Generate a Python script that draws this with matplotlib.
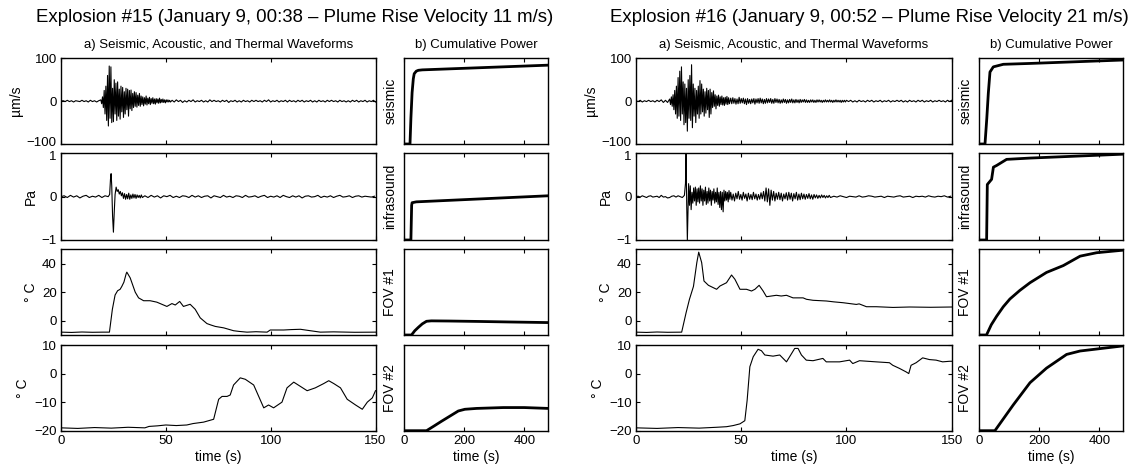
import numpy as np
import matplotlib
matplotlib.use("Agg")
import matplotlib.pyplot as plt
from matplotlib.transforms import ScaledTranslation

plt.rcParams['font.family'] = ['Liberation Sans', 'DejaVu Sans']
plt.rcParams['axes.unicode_minus'] = True

# ---------------- Explosion #15 ----------------
title15 = "Explosion #15 (January 9, 00:38 \u2013 Plume Rise Velocity 11 m/s)"

# seismic (um/s): quiet before, burst (0.4 s steps), quiet after (1 s steps)
seis15_pre = [0, 1, -1, 2, -1, 1, -2, 1, 0, -1, 2, -1, 1, -2, 2, -1, 1, -2, 1]
seis15_burst = [3, -6, 10, -15, 25, -30, 35, -45, 60, -58, 82, -40, 80, -50, 30, -48,
                50, -30, 42, -45, 45, -35, 28, -42, 35, -25, 32, -38, 22, -30, 30, -20,
                28, -35, 25, -18, 26, -22, 18, -15, 22, -12, 20, -14, 14, -10, 18, -12,
                12, -8, 10, -11, 8, -7, 12, -9, 7, -6, 9, -8, 6, -5, 8, -6, 5, -7,
                6, -4, 5, -5, 7, -4, 4, -3, 5, -3, 3, -4, 3, -2, 3, -2, 2, -2]
seis15_post = [2, -2, 3, -1, 2, -3, 1, -2, 2, -1, 3, -2, 1, -1, 2, -2, 1, -2, 3, -1,
               2, -1, 1, -2, 2, -1, 2, -3, 1, -1, 2, -2, 1, -2, 2, -1, 1, -2, 2, -1,
               2, -1, 1, -2, 2, -1, 3, -2, 1, -1, 2, -2, 1, -1, 2, -2, 2, -1, 1, -2,
               2, -1, 2, -2, 1, -1, 2, -2, 1, -2, 2, -1, 1, -2, 2, -1, 2, -1, 1, -2,
               2, -1, 1, -2, 1, -2, 2, -1, 2, -2, 1, -1, 2, -2, 1, -1, 2, -2]

# infrasound (Pa)
infra15_pre = [0.0, 0.02, -0.02, 0.03, -0.01, 0.02, -0.03, 0.01, 0.03, -0.02, 0.01,
               -0.01, 0.03, -0.02, 0.02, 0.0]
infra15_evt_t = [23.2, 23.6, 23.9, 24.2, 24.6, 25.0, 25.4, 25.8, 26.3, 26.8, 27.3, 27.8,
                 28.3, 28.8, 29.3, 29.8, 30.3, 30.8, 31.3, 31.8, 32.3, 32.8, 33.3, 33.8,
                 34.3, 34.8, 35.3, 35.8, 36.3, 36.8, 37.3, 37.8, 38.3, 38.8]
infra15_evt = [0.05, 0.4, 0.53, 0.25, -0.45, -0.82, -0.35, 0.05, 0.22, 0.12, 0.16, 0.06,
               0.12, 0.02, 0.09, -0.04, 0.07, -0.06, 0.05, -0.05, 0.08, -0.06, 0.04, -0.04,
               0.06, -0.03, 0.05, -0.04, 0.04, -0.02, 0.03, -0.03, 0.04, -0.02]
infra15_post = [0.02, -0.02, 0.03, -0.01, 0.02, -0.03, 0.02, 0.0, 0.03, -0.02, 0.01, -0.02,
                0.02, 0.01, -0.02, 0.03, -0.01, 0.02, -0.02, 0.01, 0.02, -0.03, 0.02, 0.0,
                -0.02, 0.03, -0.01, 0.01, -0.02, 0.02, 0.01, -0.02, 0.03, -0.01, 0.0, 0.02,
                -0.02, 0.01, 0.03, -0.02, 0.01, -0.01, 0.02, -0.02, 0.03, 0.0, -0.02, 0.02,
                -0.01, 0.02, -0.03, 0.01, 0.02, -0.01, 0.0, 0.03, -0.02, 0.01, -0.01, 0.02,
                -0.02, 0.01, 0.03, -0.01, 0.0, 0.02, -0.02, 0.01, 0.02, -0.01, 0.01, 0.0,
                -0.01, 0.01]

# FOV #1 temperature (deg C)
fov1_15_t = [0, 5, 10, 15, 20, 23.1, 24.5, 25.8, 27.0, 28.2, 29.0, 30.0, 31.1, 31.4, 33.0,
             35.4, 37.0, 39.4, 42.5, 45.7, 48.9, 50.5, 52.9, 54.5, 56.6, 58.4, 61.6, 64.0,
             66.4, 69.6, 71.5, 73.6, 77.6, 82.3, 85.0, 88.7, 93.0, 98.3, 99.8, 106.2, 110.0,
             114.2, 118.9, 123.7, 130, 140, 150]
fov1_15 = [-8, -8.2, -7.9, -8.1, -8, -8, 8, 18, 21, 22, 24, 27, 33, 34, 30, 20, 16, 14,
           14, 13, 11, 10, 12, 11, 13.5, 10, 11.5, 8, 2, -2, -3, -4, -5, -7, -7.5, -8, -7.7,
           -8, -6.5, -6.5, -6.2, -6, -7, -8, -7.8, -8.1, -8]

# FOV #2 temperature (deg C)
fov2_15_t = [0, 8, 16, 24, 32, 40, 42, 46, 50, 55, 60, 63, 68, 72.8, 75.2, 76.8, 79.2,
             80.7, 82.3, 85.5, 87.9, 91.9, 94.3, 96.7, 99.0, 101.4, 105.4, 107.8, 111.0,
             114.2, 117.4, 121.3, 125.3, 127.7, 130.1, 133.3, 136.5, 140.5, 143.7, 146.1,
             148.5, 150]
fov2_15 = [-19, -19.2, -18.9, -19.1, -18.8, -19, -18.5, -18.3, -18, -18.2, -18, -17.5, -17,
           -16, -9, -8, -8, -7.5, -4, -1.5, -2, -4, -8, -12, -11, -12, -10, -5, -3, -4.5,
           -6, -5, -3.5, -2.5, -3.5, -5, -9, -11, -12.5, -10, -8.5, -6]

# cumulative power (normalised)
cum15_seis_t = [0, 19, 22, 26, 30, 33, 40, 47, 60, 480]
cum15_seis = [0, 0, 0.3, 0.6, 0.76, 0.82, 0.85, 0.86, 0.865, 0.92]
cum15_infra_t = [0, 22, 24.5, 26, 40, 480]
cum15_infra = [0, 0, 0.40, 0.43, 0.44, 0.51]
cum15_fov1_t = [0, 24, 35, 47, 60, 74, 90, 150, 250, 350, 480]
cum15_fov1 = [0, 0, 0.05, 0.09, 0.13, 0.16, 0.165, 0.163, 0.158, 0.152, 0.145]
cum15_fov2_t = [0, 74, 97, 124, 152, 180, 202, 241, 330, 400, 480]
cum15_fov2 = [0, 0, 0.05, 0.11, 0.17, 0.23, 0.25, 0.26, 0.27, 0.27, 0.26]

# ---------------- Explosion #16 ----------------
title16 = "Explosion #16 (January 9, 00:52 \u2013 Plume Rise Velocity 21 m/s)"

seis16_pre = [1, -1, 2, -2, 1, -1, 2, -1, 1, -2, 2, -1, 3, -3, 2, -3]
seis16_burst = [5, -8, 10, -12, 15, -20, 25, -30, 35, -40, 55, -35, 70, -45, 80, -30,
                45, -55, 40, -50, 30, -70, 50, -40, 60, -45, 85, -62, 40, -35, 30, -50,
                25, -30, 35, -40, 48, -30, 40, -25, 28, -35, 22, -28, 30, -20, 25, -38,
                28, -30, 20, -15, 24, -12, 15, -18, 12, -10, 14, -12, 10, -8, 12, -9,
                8, -10, 9, -7, 11, -8, 8, -6]
seis16_tail = [7, -6, 8, -5, 6, -7, 5, -6, 9, -5, 6, -4, 7, -6, 5, -8, 6, -5, 4, -6,
               5, -4, 6, -7, 5, -4, 6, -5, 7, -4, 5, -6, 4, -5, 6, -4, 5, -3, 6, -5,
               4, -5, 6, -3, 5, -4, 4, -5, 3, -4, 5, -3, 4, -5, 3, -4, 4, -3, 5, -4,
               3, -4, 4, -3, 3, -4, 4, -3, 3, -2, 4, -3, 3, -3, 2, -3, 3, -2, 3, -3,
               2, -3, 3, -2, 3, -2, 2, -3, 2, -2, 3, -2, 2, -2, 3, -2, 2, -3, 2, -2,
               3, -2, 2, -2, 2, -3, 2, -2, 2, -2]
seis16_post = [2, -1, 2, -2, 1, -2, 2, -1, 1, -2, 2, -1, 2, -2, 1, -1, 2, -2, 1, -1,
               2, -2, 1, -1, 2, -1, 2, -2, 1, -2, 2, -1, 1, -2, 2, -1, 2, -2, 1, -1,
               2, -2, 1, -1, 2, -1, 1, -2, 2, -1, 2]

infra16_pre = [0.0, 0.01, -0.01, 0.02, 0.0, -0.02, 0.01, 0.02, -0.01, 0.0, 0.01, -0.02,
               0.03, -0.01, 0.0, -0.03, -0.02, 0.01, 0.02, -0.01, 0.02, 0.0, -0.02, 0.03]
infra16_spike_t = [23.5, 23.8, 24.1, 24.4, 24.7, 25.0]
infra16_spike = [0.3, 1.0, -0.2, -1.0, -0.3, 0.3]
infra16_coda = [-0.2, 0.25, -0.3, 0.1, -0.15, 0.2, -0.1, 0.22, -0.2, 0.18, -0.12, 0.2,
                -0.15, 0.25, -0.1, 0.18, -0.2, 0.15, -0.1, 0.22, -0.18, 0.12, -0.15, 0.2,
                -0.1, 0.15, -0.2, 0.12, -0.08, 0.18, -0.15, 0.1, -0.12, 0.2, -0.18, 0.1,
                -0.25, 0.12, -0.3, 0.1, -0.35, 0.15, -0.1, 0.12, -0.08, 0.1, -0.12, 0.14,
                -0.06]
infra16_tail = [0.1, -0.08, 0.06, -0.1, 0.08, -0.05, 0.12, -0.06, 0.05, -0.08, 0.1, -0.04,
                0.06, -0.1, 0.08, -0.06, 0.05, -0.07, 0.1, -0.05,
                0.06, -0.08, 0.05, -0.06, 0.09, -0.05, 0.12, -0.1, 0.2, -0.12, 0.18, -0.2,
                0.15, -0.08, 0.12, -0.1, 0.08, -0.06, 0.1, -0.07,
                0.08, -0.1, 0.06, -0.05, 0.09, -0.08, 0.1, -0.06, 0.08, -0.1, 0.07, -0.05,
                0.1, -0.08, 0.06, -0.07, 0.08, -0.05, 0.06, -0.06,
                0.05, -0.04, 0.07, -0.05, 0.04, -0.06, 0.05, -0.03, 0.04, -0.04, 0.03, -0.03,
                0.04, -0.02, 0.03, -0.03, 0.02, -0.02, 0.03, -0.02]
infra16_post = [0.01, -0.01, 0.02, 0.0, -0.02, 0.01, 0.0, -0.01, 0.02, -0.01, 0.0, 0.02,
                0.01, -0.01, 0.0, 0.01, -0.02, 0.01, 0.0, -0.01, 0.01, 0.02, -0.01, 0.0,
                0.01, -0.02, 0.01, 0.0, 0.01, -0.01, 0.02, 0.0, -0.01, 0.01, 0.0, 0.02,
                -0.01, 0.01]

fov1_16_t = [0, 5, 10, 15, 21.7, 23.8, 25.4, 27.3, 28.9, 29.8, 31.2, 32.3, 34.4, 38.3,
             39.9, 43.0, 45.4, 47.0, 49.4, 52.5, 54.9, 56.5, 58.5, 60.4, 62.0, 66.7, 69.0,
             71.5, 74.6, 79.4, 81.0, 84.1, 90.5, 94.0, 98.4, 104.7, 106.0, 109.5, 114.2,
             122.1, 130.0, 140, 150]
fov1_16 = [-8, -8.2, -7.9, -8.1, -8, 5.6, 15, 24, 40.7, 48, 40.7, 27.8, 24.8, 22, 24.3,
           26.6, 32, 29, 22, 22, 20.8, 22, 24.8, 20.8, 16.8, 17.8, 17.3, 17.8, 16, 16,
           15, 14.3, 13.8, 13.2, 12.6, 11.4, 11.8, 9.8, 9.8, 9.3, 9.6, 9.4, 9.6]

fov2_16_t = [0, 10, 20, 30, 38.3, 43.0, 46.2, 49.4, 51.7, 52.8, 54.1, 55.7, 58.0, 59.6,
             61.2, 65.1, 68.3, 71.5, 73.0, 75.4, 77.0, 78.6, 80.9, 84.1, 88.8, 90.4, 96.7,
             101.5, 103.0, 106.2, 114.1, 120.4, 122.0, 125.2, 128.3, 129.6, 130.7, 133.1,
             136.2, 139.4, 142.6, 145.7, 148.9, 150]
fov2_16 = [-19, -19.2, -18.9, -19.1, -18.8, -18.6, -18.2, -17.6, -16.5, -9.4, 2.4, 5.9,
           8.5, 8, 6.5, 6.1, 6.5, 4.1, 5.9, 8.8, 8.8, 6.5, 4.7, 4.5, 5.3, 4.1, 4.1, 4.7,
           3.5, 4.5, 4.1, 3.8, 2.9, 1.8, 0.6, 0.0, 2.9, 3.8, 5.5, 4.9, 4.7, 4.1, 4.3, 4.3]

cum16_seis_t = [0, 19, 25, 30, 35.6, 46.7, 80, 169, 480]
cum16_seis = [0, 0, 0.3, 0.59, 0.84, 0.9, 0.93, 0.94, 0.98]
cum16_infra_t = [0, 24.4, 26.7, 41, 47, 58, 91, 169, 480]
cum16_infra = [0, 0, 0.64, 0.7, 0.84, 0.86, 0.93, 0.945, 0.99]
cum16_fov1_t = [0, 24, 40, 58, 80, 102, 135, 169, 224, 280, 336, 391, 480]
cum16_fov1 = [0, 0, 0.12, 0.22, 0.33, 0.42, 0.52, 0.61, 0.73, 0.81, 0.92, 0.96, 0.99]
cum16_fov2_t = [0, 52, 113, 169, 224, 291, 336, 480]
cum16_fov2 = [0, 0, 0.30, 0.56, 0.73, 0.89, 0.93, 0.99]

wave_ylabels = ["\u00b5m/s", "Pa", "\u00b0 C", "\u00b0 C"]
wave_ylims = [(-100, 100), (-1, 1), (-10, 50), (-20, 10)]
wave_yticks = [[-100, 0, 100], [-1, 0, 1], [0, 20, 40], [-20, -10, 0, 10]]
cum_ylabels = ["seismic", "infrasound", "FOV #1", "FOV #2"]


def segs(*parts):
    # parts: (start, step, values) or (times, values)
    tt, yy = [], []
    for p in parts:
        if len(p) == 3:
            start, step, vals = p
            tt.extend(start + step * np.arange(len(vals)))
            yy.extend(vals)
        else:
            tt.extend(p[0])
            yy.extend(p[1])
    return np.array(tt), np.array(yy)


W, H = 1133, 468
fig = plt.figure(figsize=(W / 100, H / 100), dpi=100)

rows = [(58.3, 144), (153.3, 240), (249.3, 335), (345, 430.7)]


def px_axes(x0, x1, y0, y1):
    return fig.add_axes([x0 / W, 1 - y1 / H, (x1 - x0) / W, (y1 - y0) / H])


def style(ax):
    ax.tick_params(direction='in', length=3, width=0.8, top=True, right=True,
                   labelsize=9.5, pad=3)
    for s in ax.spines.values():
        s.set_linewidth(1.0)


def nudge(label, dy_px):
    label.set_transform(label.get_transform() +
                        ScaledTranslation(0, dy_px / 100, fig.dpi_scale_trans))


def panel(x_wave, x_cum, title, waves, cums):
    xc = (x_wave[0] + x_cum[1]) / 2 - 10
    fig.text(xc / W, 1 - 18 / H, title, ha='center', va='center', fontsize=13.4)
    fig.text((x_wave[0] + x_wave[1]) / 2 / W, 1 - 45 / H,
             "a) Seismic, Acoustic, and Thermal Waveforms",
             ha='center', va='center', fontsize=9.5)
    fig.text((x_cum[0] + x_cum[1]) / 2 / W, 1 - 45 / H, "b) Cumulative Power",
             ha='center', va='center', fontsize=9.5)
    for i, (y0, y1) in enumerate(rows):
        ax = px_axes(x_wave[0], x_wave[1], y0, y1)
        t, v = waves[i]
        ax.plot(t, v, color='black', lw=0.8)
        ax.set_xlim(0, 150)
        ax.set_ylim(*wave_ylims[i])
        ax.set_yticks(wave_yticks[i])
        ax.set_xticks([0, 50, 100, 150])
        ax.set_ylabel(wave_ylabels[i], fontsize=10, labelpad=3)
        style(ax)
        # keep the stacked end labels (-100 / 1) from colliding
        ticks = ax.yaxis.get_major_ticks()
        if i == 0:
            nudge(ticks[0].label1, 2.5)
        if i == 1:
            nudge(ticks[-1].label1, -2.5)
        if i < 3:
            ax.set_xticklabels([])
        else:
            ax.set_xlabel("time (s)", fontsize=10, labelpad=2)

        cx = px_axes(x_cum[0], x_cum[1], y0, y1)
        ct, cv = cums[i]
        cx.plot(ct, cv, color='black', lw=2.0, solid_capstyle='butt')
        cx.set_xlim(0, 480)
        cx.set_ylim(0, 1)
        cx.set_yticks([])
        cx.set_xticks([0, 200, 400])
        cx.set_ylabel(cum_ylabels[i], fontsize=10, labelpad=5)
        style(cx)
        if i < 3:
            cx.set_xticklabels([])
        else:
            cx.set_xlabel("time (s)", fontsize=10, labelpad=2)


waves15 = [
    segs((0, 1.0, seis15_pre), (19.0, 0.4, seis15_burst), (53, 1.0, seis15_post)),
    segs((0, 1.5, infra15_pre), (infra15_evt_t, infra15_evt), (40, 1.5, infra15_post)),
    (fov1_15_t, fov1_15),
    (fov2_15_t, fov2_15),
]
cums15 = [(cum15_seis_t, cum15_seis), (cum15_infra_t, cum15_infra),
          (cum15_fov1_t, cum15_fov1), (cum15_fov2_t, cum15_fov2)]

waves16 = [
    segs((0, 1.0, seis16_pre), (16.0, 0.4, seis16_burst), (45, 0.5, seis16_tail),
         (100, 1.0, seis16_post)),
    segs((0, 1.0, infra16_pre), (infra16_spike_t, infra16_spike), (25.4, 0.4, infra16_coda),
         (45.0, 0.6, infra16_tail), (94, 1.5, infra16_post)),
    (fov1_16_t, fov1_16),
    (fov2_16_t, fov2_16),
]
cums16 = [(cum16_seis_t, cum16_seis), (cum16_infra_t, cum16_infra),
          (cum16_fov1_t, cum16_fov1), (cum16_fov2_t, cum16_fov2)]

panel((61, 375.5), (404.3, 548.3), title15, waves15, cums15)
panel((636, 951.7), (979.3, 1123.3), title16, waves16, cums16)

fig.savefig("out.png", dpi=100)
